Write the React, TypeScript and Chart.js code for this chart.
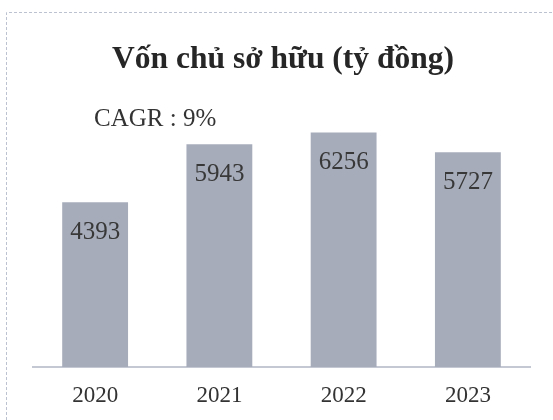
import React, { useEffect, useRef } from "react";
import { Chart, registerables } from "chart.js";

Chart.register(...registerables);

const years = ["2020", "2021", "2022", "2023"];
const equity = [4393, 5943, 6256, 5727];
const titleText = "Vốn chủ sở hữu (tỷ đồng)";
const cagrText = "CAGR : 9%";

const SERIF = '"Liberation Serif", "Times New Roman", serif';

const decorPlugin = {
  id: "decor",
  beforeDraw(chart: any) {
    const { ctx } = chart;
    ctx.save();
    ctx.fillStyle = "#ffffff";
    ctx.fillRect(0, 0, chart.width, chart.height);
    // scanned frame
    ctx.strokeStyle = "#bcc2cf";
    ctx.lineWidth = 1;
    ctx.setLineDash([3, 2]);
    ctx.beginPath();
    ctx.moveTo(6.5, chart.height);
    ctx.lineTo(6.5, 12.5);
    ctx.lineTo(chart.width, 12.5);
    ctx.stroke();
    ctx.setLineDash([]);
    // title
    ctx.fillStyle = "#262626";
    ctx.font = "bold 31.5px " + SERIF;
    ctx.textAlign = "center";
    ctx.textBaseline = "alphabetic";
    ctx.fillText(titleText, 283, 68);
    // CAGR
    ctx.fillStyle = "#333333";
    ctx.font = "25px " + SERIF;
    ctx.textAlign = "left";
    ctx.fillText(cagrText, 94, 126);
    ctx.restore();
  },
  afterDatasetsDraw(chart: any) {
    const { ctx } = chart;
    const meta = chart.getDatasetMeta(0);
    ctx.save();
    ctx.fillStyle = "#383838";
    ctx.font = "25px " + SERIF;
    ctx.textAlign = "center";
    ctx.textBaseline = "alphabetic";
    meta.data.forEach((bar: any, i: number) => {
      ctx.fillText(String(equity[i]), bar.x, bar.y + 37);
    });
    ctx.restore();
  },
};

export default function App() {
  const ref = useRef<HTMLCanvasElement | null>(null);
  useEffect(() => {
    document.body.style.margin = "0";
    const canvas = ref.current;
    if (!canvas) return;
    const chart = new Chart(canvas, {
      type: "bar",
      data: {
        labels: years,
        datasets: [
          {
            data: equity,
            backgroundColor: "#a6acba",
            borderWidth: 0,
            categoryPercentage: 1,
            barPercentage: 0.53,
          },
        ],
      },
      options: {
        animation: false,
        responsive: false,
        maintainAspectRatio: false,
        layout: { padding: { left: 33, right: 23, top: 104.5, bottom: 0 } },
        plugins: {
          legend: { display: false },
          tooltip: { enabled: false },
          title: { display: false },
        },
        scales: {
          x: {
            grid: { display: false, drawTicks: false },
            border: { display: true, color: "#c3c8d2", width: 2 },
            ticks: {
              color: "#333333",
              padding: 15,
              font: { family: SERIF, size: 23 },
            },
            afterFit: (scale: any) => {
              scale.height = 53;
            },
          },
          y: {
            display: false,
            min: 0,
            max: 7000,
          },
        },
      },
      plugins: [decorPlugin],
    });
    return () => chart.destroy();
  }, []);
  return (
    <div style={{ width: 553, height: 420 }}>
      <canvas ref={ref} width={553} height={420} style={{ display: "block" }} />
    </div>
  );
}
